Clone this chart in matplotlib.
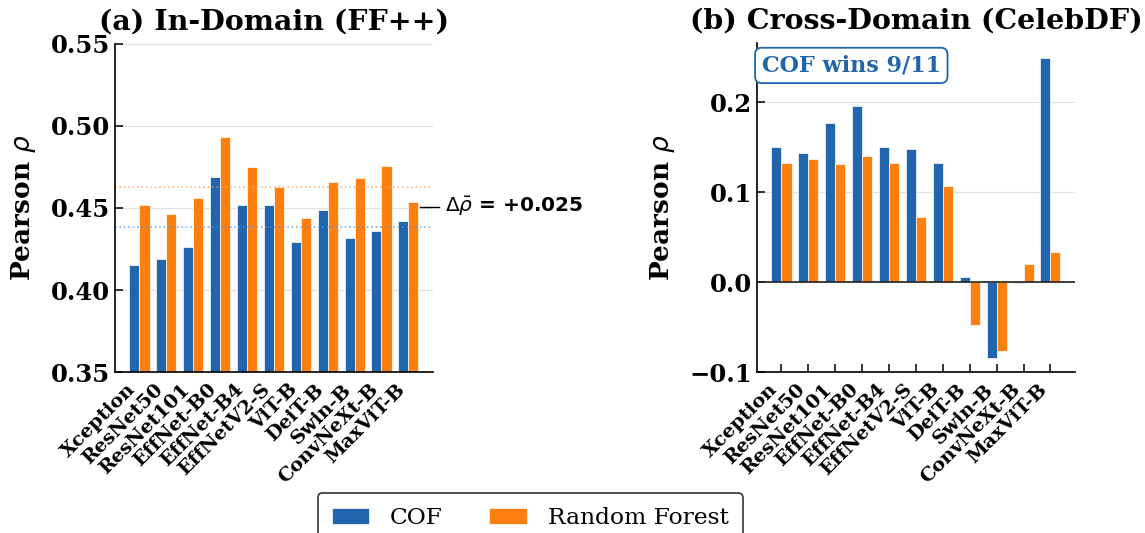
import numpy as np
import matplotlib
matplotlib.use("Agg")
import matplotlib.pyplot as plt

# model names (shared by both panels)
models = ["Xception", "ResNet50", "ResNet101", "EffNet-B0", "EffNet-B4",
          "EffNetV2-S", "ViT-B", "DeiT-B", "Swin-B", "ConvNeXt-B", "MaxViT-B"]

# (a) in-domain FF++ pearson rho
cof_in = [0.415, 0.419, 0.426, 0.469, 0.452, 0.452, 0.429, 0.449, 0.432, 0.436, 0.442]
rf_in = [0.452, 0.4465, 0.456, 0.4935, 0.475, 0.4625, 0.444, 0.466, 0.468, 0.4755, 0.4535]

# (b) cross-domain CelebDF pearson rho
cof_cross = [0.150, 0.144, 0.177, 0.196, 0.150, 0.148, 0.132, 0.006, -0.084, -0.001, 0.249]
rf_cross = [0.133, 0.137, 0.131, 0.140, 0.132, 0.072, 0.107, -0.048, -0.077, 0.020, 0.034]

BLUE = "#2166ac"
ORANGE = "#ff7f0e"

plt.rcParams["font.family"] = "DejaVu Serif"
plt.rcParams["mathtext.fontset"] = "dejavusans"

fig = plt.figure(figsize=(11.45, 5.33), dpi=100)
ax1 = fig.add_axes([0.1004, 0.302, 0.2777, 0.6156])
ax2 = fig.add_axes([0.6611, 0.302, 0.2777, 0.6175])

x = np.arange(len(models))
w = 0.375


def style(ax):
    ax.set_axisbelow(True)
    ax.spines["top"].set_visible(False)
    ax.spines["right"].set_visible(False)
    ax.spines["left"].set_linewidth(1.2)
    ax.spines["bottom"].set_linewidth(1.2)
    ax.yaxis.grid(True, color="#e0e0e0", linewidth=0.9)
    ax.tick_params(direction="in", length=6, width=1.1)
    ax.tick_params(axis="x", pad=6)
    ax.set_xlim(-0.9125, 10.9125)
    ax.set_xticks(x)
    ax.set_xticklabels(models, rotation=45, ha="right",
                       fontsize=14, fontweight="bold")
    for lab in ax.get_yticklabels():
        lab.set_fontsize(17.5)
        lab.set_fontweight("bold")
    ax.set_ylabel(r"Pearson $\rho$", fontsize=19, fontweight="bold", labelpad=9)


# ---- panel (a)
ax1.bar(x - w / 2, cof_in, w, color=BLUE, edgecolor="white", linewidth=0.5, label="COF")
ax1.bar(x + w / 2, rf_in, w, color=ORANGE, edgecolor="white", linewidth=0.5, label="Random Forest")
ax1.set_ylim(0.35, 0.55)
ax1.set_yticks([0.35, 0.40, 0.45, 0.50, 0.55])
m_cof = np.mean(cof_in)
m_rf = np.mean(rf_in)
ax1.axhline(m_cof, color="#5b8fd0", linestyle=":", linewidth=1.2, alpha=0.75)
ax1.axhline(m_rf, color="#ffa25a", linestyle=":", linewidth=1.2, alpha=0.75)
style(ax1)
ax1.set_title("(a) In-Domain (FF++)", fontsize=20.5, fontweight="bold", pad=10)
mid = (m_cof + m_rf) / 2
ax1.plot([10.45, 11.12], [mid, mid], color="black", linewidth=1, clip_on=False)
ax1.text(11.38, mid, r"$\Delta\bar{\rho}$ = +%.3f" % (m_rf - m_cof),
         fontsize=14.5, fontweight="bold", family="DejaVu Sans", va="center", ha="left")

# ---- panel (b)
ax2.bar(x - w / 2, cof_cross, w, color=BLUE, edgecolor="white", linewidth=0.5)
ax2.bar(x + w / 2, rf_cross, w, color=ORANGE, edgecolor="white", linewidth=0.5)
ax2.axhline(0, color="#222222", linewidth=1.2)
ax2.set_ylim(-0.1, 0.266)
ax2.set_yticks([-0.1, 0.0, 0.1, 0.2])
style(ax2)
ax2.set_title("(b) Cross-Domain (CelebDF)", fontsize=20.5, fontweight="bold", pad=10)
wins = sum(c > r for c, r in zip(cof_cross, rf_cross))
ax2.text(0.015, 0.965, f"COF wins {wins}/{len(models)}", transform=ax2.transAxes,
         fontsize=16, fontweight="bold", color=BLUE, va="top", ha="left",
         bbox=dict(boxstyle="round,pad=0.3", facecolor="white", edgecolor=BLUE, linewidth=1.3))

leg = fig.legend(handles=ax1.containers, labels=["COF", "Random Forest"],
                 loc="upper center", bbox_to_anchor=(0.463, 0.075), ncol=2,
                 fontsize=16.8, frameon=True, fancybox=True, edgecolor="black",
                 handlelength=1.6, handletextpad=0.9, columnspacing=2.0,
                 borderpad=0.6, borderaxespad=0)
leg.get_frame().set_linewidth(1.2)

fig.savefig("out.png", dpi=100)
